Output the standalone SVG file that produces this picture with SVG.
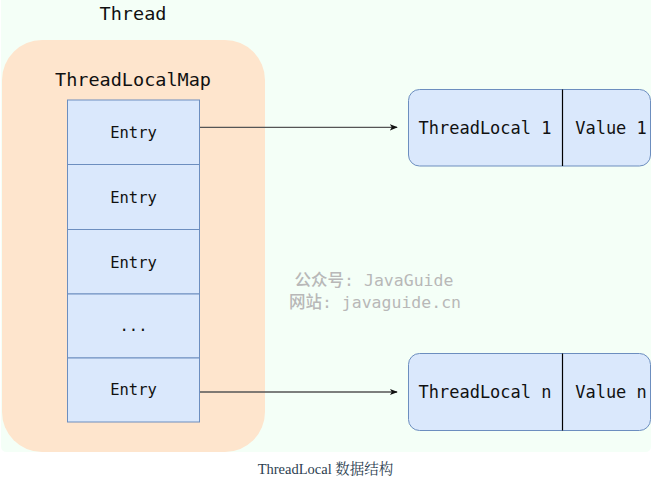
<svg xmlns="http://www.w3.org/2000/svg" width="651" height="483" viewBox="0 0 651 483">
  <defs>
    <style>
      .mono { font-family: "DejaVu Sans Mono", "Liberation Mono", monospace; fill: #111; }
      .entry { fill: #dae8fc; stroke: #6c8ebf; stroke-width: 1; }
      .conn { stroke: #555; stroke-width: 1.3; fill: none; }
      .wm { font-family: "DejaVu Sans Mono", "Noto Sans CJK SC", monospace; fill: #b8b8b8; font-size: 16.5px; font-weight: 500; }
    </style>
    <marker id="arrow" viewBox="0 0 10 10" refX="9" refY="5" markerWidth="8" markerHeight="8" markerUnits="userSpaceOnUse" orient="auto">
      <path d="M0,1 L10,5 L0,9 L2.5,5 Z" fill="#111"/>
    </marker>
  </defs>
  <rect width="651" height="483" fill="#ffffff"/>
  <path d="M1,0 H651 V446 Q651,452 645,452 H7 Q1,452 1,446 Z" fill="#f4fff7"/>

  <g id="thread">
    <text class="mono" x="133" y="20" font-size="18.5" text-anchor="middle">Thread</text>
  </g>

  <g id="threadlocalmap">
    <rect x="2" y="40" width="263" height="412" rx="40" ry="40" fill="#fee5cd"/>
    <text class="mono" x="133" y="86" font-size="18.5" text-anchor="middle">ThreadLocalMap</text>
  </g>

  <g id="entry1">
    <rect class="entry" x="67.5" y="100" width="132" height="64.5"/>
    <text class="mono" x="133.5" y="138" font-size="15.5" text-anchor="middle">Entry</text>
  </g>
  <g id="entry2">
    <rect class="entry" x="67.5" y="164.5" width="132" height="65"/>
    <text class="mono" x="133.5" y="203" font-size="15.5" text-anchor="middle">Entry</text>
  </g>
  <g id="entry3">
    <rect class="entry" x="67.5" y="229.5" width="132" height="64.5"/>
    <text class="mono" x="133.5" y="268" font-size="15.5" text-anchor="middle">Entry</text>
  </g>
  <g id="entry4">
    <rect class="entry" x="67.5" y="294" width="132" height="64"/>
    <text class="mono" x="133.5" y="331" font-size="15.5" text-anchor="middle">...</text>
  </g>
  <g id="entry5">
    <rect class="entry" x="67.5" y="358" width="132" height="64"/>
    <text class="mono" x="133.5" y="395" font-size="15.5" text-anchor="middle">Entry</text>
  </g>

  <g id="pair1">
    <rect x="408.5" y="89.5" width="242" height="76.5" rx="11" ry="11" fill="#dae8fc" stroke="#6c8ebf" stroke-width="1"/>
    <line x1="562.5" y1="89.5" x2="562.5" y2="166" stroke="#000" stroke-width="1.2"/>
    <text class="mono" x="485" y="134" font-size="17" text-anchor="middle">ThreadLocal 1</text>
    <text class="mono" x="611" y="134" font-size="17" text-anchor="middle">Value 1</text>
  </g>

  <g id="pairn">
    <rect x="408.5" y="353.5" width="242" height="77" rx="11" ry="11" fill="#dae8fc" stroke="#6c8ebf" stroke-width="1"/>
    <line x1="562.5" y1="353.5" x2="562.5" y2="430.5" stroke="#000" stroke-width="1.2"/>
    <text class="mono" x="485" y="398" font-size="17" text-anchor="middle">ThreadLocal n</text>
    <text class="mono" x="611" y="398" font-size="17" text-anchor="middle">Value n</text>
  </g>

  <g id="connectors">
    <line class="conn" x1="200" y1="127.3" x2="397" y2="127.3" marker-end="url(#arrow)"/>
    <line class="conn" x1="200" y1="392" x2="397" y2="392" marker-end="url(#arrow)"/>
  </g>

  <g id="watermark">
    <text class="wm" x="374" y="286" text-anchor="middle">公众号: JavaGuide</text>
    <text class="wm" x="375" y="308" text-anchor="middle">网站: javaguide.cn</text>
  </g>

  <text x="325.5" y="474" font-family="Liberation Serif, Noto Serif CJK SC, Noto Sans CJK SC, serif" font-size="14.5" fill="#2c3e50" text-anchor="middle">ThreadLocal 数据结构</text>
</svg>
